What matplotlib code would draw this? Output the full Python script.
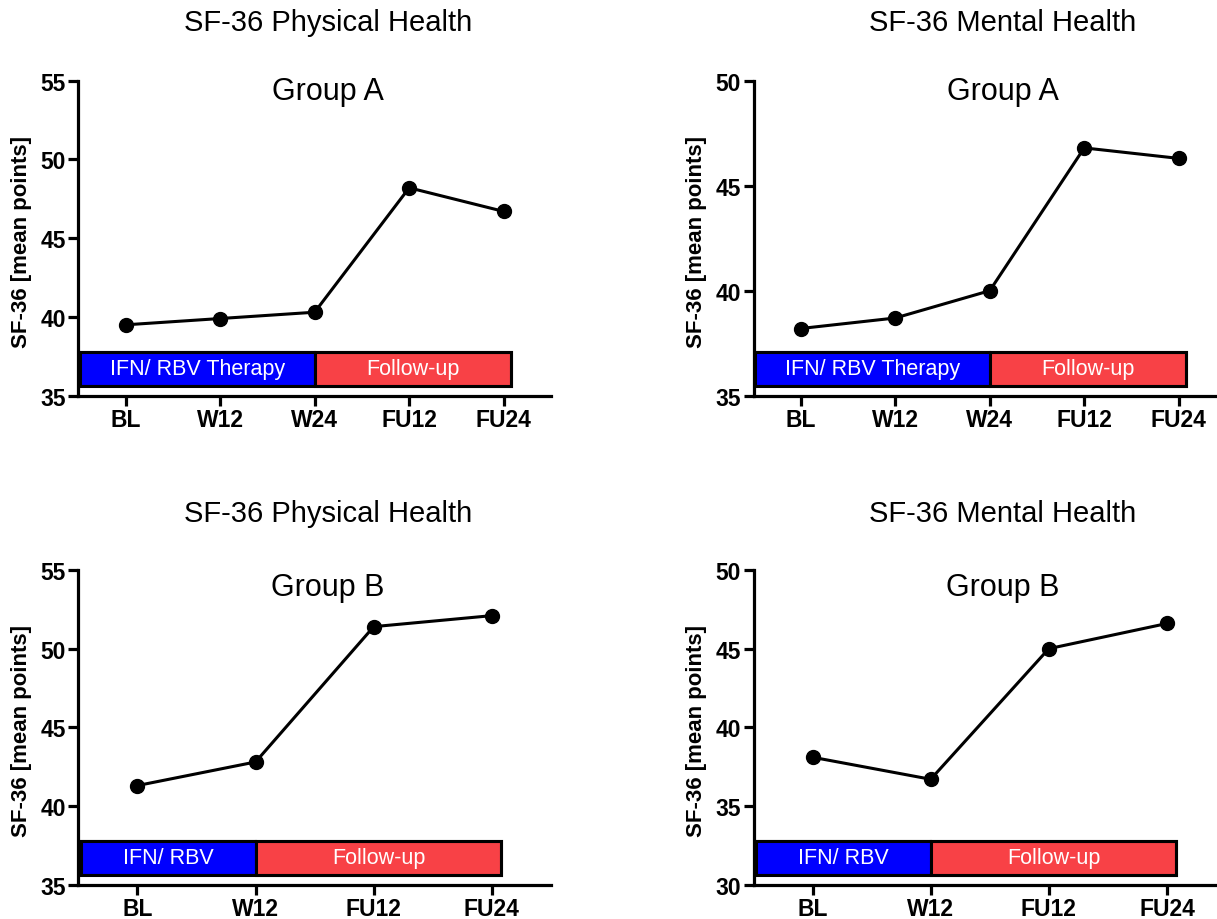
import matplotlib
matplotlib.use("Agg")
import matplotlib.pyplot as plt
from matplotlib.patches import Rectangle
import matplotlib.transforms as mtransforms

plt.rcParams['font.family'] = ['Liberation Sans', 'DejaVu Sans']

# ---- data ----
labels_A = ["BL", "W12", "W24", "FU12", "FU24"]
labels_B = ["BL", "W12", "FU12", "FU24"]
phys_A = [39.5, 39.9, 40.3, 48.2, 46.7]
ment_A = [38.2, 38.7, 40.0, 46.8, 46.3]
phys_B = [41.3, 42.8, 51.4, 52.1]
ment_B = [38.1, 36.7, 45.0, 46.6]
therapy_A = "IFN/ RBV Therapy"
therapy_B = "IFN/ RBV"
followup = "Follow-up"
therapy_end_A = 3   # therapy ends at W24
therapy_end_B = 2   # therapy ends at W12

W, H = 1217, 920
fig = plt.figure(figsize=(W / 100, H / 100), dpi=100)


def rect(l, r, t, b):
    return [l / W, 1 - b / H, (r - l) / W, (b - t) / H]


BLUE = "#0000FF"
RED = "#F84146"


def panel(pos, labels, values, ylim, yticks, title, group, ther_text, ther_end, title_y, group_y):
    ax = fig.add_axes(rect(*pos))
    x = list(range(1, len(labels) + 1))
    ax.plot(x, values, color="black", lw=2.2, marker="o", ms=10, zorder=5)
    ax.set_xlim(0.5, len(labels) + 0.5)
    ax.set_ylim(*ylim)
    ax.set_yticks(yticks)
    ax.set_xticks(x)
    ax.set_xticklabels(labels)
    for s in ["top", "right"]:
        ax.spines[s].set_visible(False)
    for s in ["left", "bottom"]:
        ax.spines[s].set_linewidth(2.3)
    ax.tick_params(axis="both", length=7, width=2.3, labelsize=16.5, pad=2)
    for lab in ax.get_xticklabels() + ax.get_yticklabels():
        lab.set_fontweight("bold")
    ax.set_ylabel("SF-36 [mean points]", fontsize=16, fontweight="bold")
    ax.yaxis.set_label_coords(-0.098, 0.49)

    trans = mtransforms.blended_transform_factory(ax.transData, ax.transAxes)
    y0, y1 = 0.031, 0.139
    x_start = 0.52
    x_end = len(labels) + 0.08
    ax.add_patch(Rectangle((x_start, y0), ther_end - x_start, y1 - y0, transform=trans,
                           facecolor=BLUE, edgecolor="black", lw=1.5, zorder=3, clip_on=False))
    ax.add_patch(Rectangle((ther_end, y0), x_end - ther_end, y1 - y0, transform=trans,
                           facecolor=RED, edgecolor="black", lw=2.2, zorder=3, clip_on=False))
    ax.add_patch(Rectangle((x_start, y0), x_end - x_start, y1 - y0, transform=trans,
                           facecolor="none", edgecolor="black", lw=2.2, zorder=4, clip_on=False))
    ym = (y0 + y1) / 2
    ax.text((x_start + ther_end) / 2, ym, ther_text, transform=trans, color="white",
            fontsize=15.5, ha="center", va="center", zorder=6)
    ax.text((ther_end + x_end) / 2, ym, followup, transform=trans, color="white",
            fontsize=15.5, ha="center", va="center", zorder=6)

    cx = ((pos[0] + pos[1]) / 2 + 13) / W
    fig.text(cx, 1 - title_y / H, title, fontsize=21, ha="center", va="center")
    fig.text(cx, 1 - group_y / H, group, fontsize=22, ha="center", va="center")
    return ax


panel((78.3, 551, 81.7, 396.7), labels_A, phys_A, (35, 55), [35, 40, 45, 50, 55],
      "SF-36 Physical Health", "Group A", therapy_A, therapy_end_A, 23, 92)
panel((753.5, 1226, 81.7, 396.7), labels_A, ment_A, (35, 50), [35, 40, 45, 50],
      "SF-36 Mental Health", "Group A", therapy_A, therapy_end_A, 23, 92)
panel((78.3, 551, 571, 885.7), labels_B, phys_B, (35, 55), [35, 40, 45, 50, 55],
      "SF-36 Physical Health", "Group B", therapy_B, therapy_end_B, 514, 588)
panel((753.5, 1226, 571, 885.7), labels_B, ment_B, (30, 50), [30, 35, 40, 45, 50],
      "SF-36 Mental Health", "Group B", therapy_B, therapy_end_B, 514, 588)

fig.savefig("out.png", dpi=100)
